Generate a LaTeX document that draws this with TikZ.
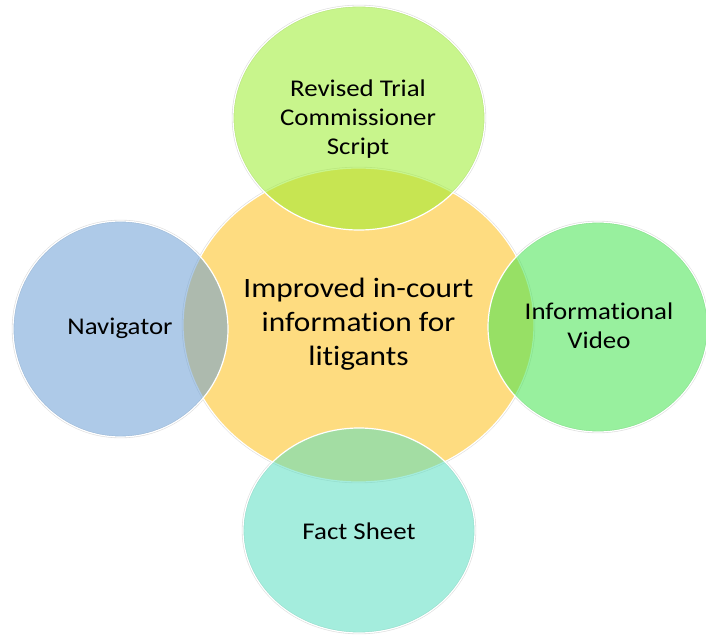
\documentclass[tikz,border=0pt]{standalone}
\usepackage{fontspec}
\setmainfont{Carlito}[FakeStretch=1.12, Ligatures=NoCommon]
\definecolor{hubfill}{RGB}{254,220,128}
\definecolor{topfill}{RGB}{155,237,46}
\definecolor{leftfill}{RGB}{108,159,213}
\definecolor{rightfill}{RGB}{68,228,79}
\definecolor{botfill}{RGB}{90,222,193}
\begin{document}
\begin{tikzpicture}[x=1pt,y=-1pt,
  shade ring/.style={draw=black!13, line width=2.4pt},
  hub/.style={fill=hubfill, draw=white, line width=1.2pt},
  petal/.style={fill opacity=0.55, draw=white, draw opacity=1, line width=1.2pt},
  hubtext/.style={font=\fontsize{28}{34}\selectfont, align=center, text=black},
  petaltext/.style={font=\fontsize{24}{29}\selectfont, align=center, text=black}]
\useasboundingbox (0,0) rectangle (706,634);

% centres of the five discs
\coordinate (hubc) at (358.5,325);
\coordinate (topc) at (359,118);
\coordinate (leftc) at (120.5,329);
\coordinate (rightc) at (598,327);
\coordinate (botc) at (359,530.5);

% faint outer rims
\draw[shade ring] (hubc) ellipse [x radius=175.5pt, y radius=157pt];
\draw[shade ring] (topc) ellipse [x radius=126pt, y radius=112pt];
\draw[shade ring] (leftc) ellipse [x radius=107.5pt, y radius=108pt];
\draw[shade ring] (rightc) ellipse [x radius=110pt, y radius=105pt];
\draw[shade ring] (botc) ellipse [x radius=116pt, y radius=102.5pt];

% central disc and the translucent discs around it
\path[hub] (hubc) ellipse [x radius=175.5pt, y radius=157pt];
\path[petal, fill=topfill] (topc) ellipse [x radius=126pt, y radius=112pt];
\path[petal, fill=leftfill] (leftc) ellipse [x radius=107.5pt, y radius=108pt];
\path[petal, fill=rightfill] (rightc) ellipse [x radius=110pt, y radius=105pt];
\path[petal, fill=botfill] (botc) ellipse [x radius=116pt, y radius=102.5pt];

% labels
\node[hubtext] (hub) at (358.5,324) {Improved in-court\\information for\\litigants};
\node[petaltext] (script) at (358,119) {Revised Trial\\Commissioner\\Script};
\node[petaltext] (nav) at (120,328) {Navigator};
\node[petaltext] (video) at (599,326) {Informational\\Video};
\node[petaltext] (fact) at (359,531) {Fact Sheet};
\end{tikzpicture}
\end{document}
